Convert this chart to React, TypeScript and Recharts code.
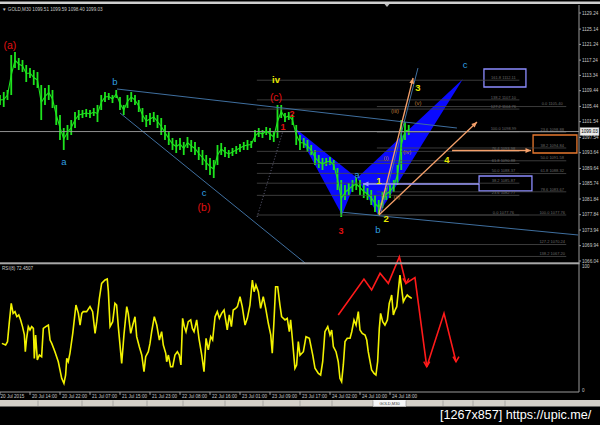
import React from "react";
import { ComposedChart, Bar, Line, XAxis, YAxis, ReferenceLine, ReferenceArea, Scatter } from "recharts";

// ---------- price candles (every 2nd M30 bar, high / low) ----------
const SAMPLE_STEP = 2;
const candleHigh = [
  1108.34, 1109.11, 1109.62, 1118.54, 1119.30, 1117.77, 1117.26, 1115.99, 1115.22, 1114.71,
  1114.20, 1110.89, 1110.13, 1110.89, 1109.62, 1105.80, 1103.25, 1099.93, 1100.70, 1101.97,
  1104.01, 1104.52, 1104.52, 1104.78, 1104.52, 1105.03, 1105.80, 1108.34, 1109.11, 1108.85,
  1108.34, 1109.62, 1107.83, 1105.80, 1108.34, 1109.11, 1108.34, 1107.07, 1105.03, 1103.25,
  1103.76, 1104.01, 1103.25, 1102.48, 1100.70, 1098.91, 1097.39, 1096.88, 1097.39, 1096.37,
  1097.64, 1096.88, 1096.37, 1095.09, 1094.33, 1093.05, 1092.29, 1091.78, 1095.60, 1096.11,
  1095.09, 1094.33, 1094.84, 1095.35, 1095.86, 1096.37, 1096.88, 1096.62, 1099.42, 1099.93,
  1099.42, 1100.19, 1099.93, 1098.91, 1105.80, 1105.80, 1103.76, 1104.01, 1103.25, 1100.70,
  1098.15, 1097.39, 1096.88, 1095.60, 1094.33, 1093.05, 1092.29, 1092.29, 1092.54, 1091.78,
  1089.74, 1086.68, 1085.41, 1085.92, 1086.68, 1087.19, 1086.68, 1085.41, 1084.64, 1084.13,
  1082.86, 1081.59, 1083.62, 1084.64, 1085.41, 1086.68, 1090.50, 1101.97, 1101.46, 1100.70,
];
const candleLow = [
  1105.80, 1105.29, 1107.07, 1108.34, 1115.22, 1114.71, 1114.20, 1111.66, 1112.68, 1110.89,
  1110.13, 1101.97, 1105.80, 1107.07, 1105.03, 1100.70, 1096.88, 1094.33, 1096.88, 1098.15,
  1099.93, 1101.97, 1102.48, 1102.74, 1102.48, 1102.99, 1101.46, 1104.52, 1106.56, 1107.07,
  1106.30, 1107.58, 1104.52, 1103.25, 1105.03, 1106.56, 1105.80, 1104.01, 1101.46, 1100.19,
  1100.70, 1101.46, 1099.93, 1098.15, 1096.88, 1095.60, 1094.33, 1093.56, 1094.33, 1093.05,
  1094.84, 1093.82, 1093.05, 1091.78, 1090.50, 1089.23, 1087.96, 1087.19, 1090.50, 1093.05,
  1092.54, 1092.29, 1092.80, 1093.31, 1093.82, 1094.33, 1094.33, 1094.84, 1096.37, 1097.64,
  1097.39, 1098.15, 1096.88, 1096.37, 1097.39, 1102.48, 1101.46, 1101.97, 1100.70, 1095.60,
  1094.33, 1094.84, 1093.82, 1093.05, 1090.50, 1089.74, 1089.23, 1090.25, 1090.50, 1089.23,
  1084.13, 1077.25, 1081.59, 1082.86, 1083.62, 1084.13, 1082.86, 1082.10, 1081.59, 1080.31,
  1078.53, 1077.76, 1079.55, 1081.59, 1082.10, 1083.62, 1085.41, 1089.23, 1096.88, 1098.15,
];
const lastPrice = 1099.03;

// ---------- axes ----------
const dateTickBars = [0, 16, 32, 48, 64, 80, 96, 112, 128, 144, 160, 176, 192, 208];
const dateTickLabels = [
  "20 Jul 2015", "20 Jul 14:00", "20 Jul 22:00", "21 Jul 07:00", "21 Jul 15:00", "21 Jul 23:00",
  "22 Jul 08:00", "22 Jul 16:00", "23 Jul 01:00", "23 Jul 09:00", "23 Jul 17:00", "24 Jul 02:00",
  "24 Jul 10:00", "24 Jul 18:00",
];
const priceTicks = [
  1129.24, 1125.14, 1121.24, 1117.24, 1113.34, 1109.44, 1105.44, 1101.54, 1097.54,
  1093.64, 1089.64, 1085.74, 1081.84, 1077.84, 1073.94, 1069.94, 1066.04,
];
const X_DOMAIN = [0, 308.8];
const PRICE_DOMAIN = [1032.658, 1131.279];
const RSI_DOMAIN = [-1.613, 310.48];

// ---------- RSI(8) ----------
const rsiBar = [
  1, 3, 4, 5, 6, 7, 8, 9, 10, 11, 12, 13, 13.5, 14.2, 15.1, 16, 16.9, 17.8, 18.3, 19,
  19.9, 21, 22.2, 23.1, 24.4, 25.8, 26.7, 27.6, 29.3, 31.1, 32.9, 34.1, 35, 35.6, 36.4, 37.3, 38.8, 40.5, 41.8, 42.7,
  43.6, 44.4, 46.2, 48, 49.4, 50.7, 51.6, 53, 54.2, 56, 57.2, 57.8, 58.7, 60.1, 61.3, 62.2, 63.1, 64.9, 66.1, 67.6,
  68.4, 69.7, 70.8, 72, 72.9, 74.3, 75.6, 76.8, 77.7, 79.1, 80, 80.9, 82.3, 83.6, 85, 86.2, 87.1, 88.4, 88.9, 89.8,
  91, 92.1, 93.3, 94.6, 95.6, 96.5, 97.4, 98.3, 99.2, 100.4, 101.7, 102.6, 103.5, 104.9, 106.1, 107.6, 108.8, 109.9, 111.1, 112.4,
  113.4, 114.7, 115.9, 117, 118.2, 119.5, 120.5, 121.2, 122.3, 123.4, 124.4, 125.7, 126.6, 128, 129.2, 130.7, 131.9, 133.3, 134.6, 135.5,
  136.5, 137.8, 139, 140.4, 141.7, 143.1, 144.4, 145.2, 146.1, 147, 148.1, 149.3, 150.2, 152, 153.2, 154.3, 155, 155.9, 157.3, 158.2,
  159.1, 160, 161.8, 163.2, 165, 166.8, 168, 169.8, 171, 172.1, 173.3, 174.8, 176, 176.9, 177.8, 179.2, 180.4, 181.3, 182.2, 183.1,
  184, 185.2, 186.7, 187.6, 188.8, 189.9, 191.1, 192, 193.2, 194.7, 195.6, 196.4, 198.2, 199.5, 200.5, 201.4, 202.3, 203, 204.1, 205.3,
  206.6, 207.6, 208.4, 208.9, 209.8, 210.7, 211.6, 212.4, 213.3, 214.2, 215.1, 216, 217.2, 218.3, 219.6,
];
const rsiValue = [
  37.6, 36.3, 39.0, 55.1, 69.9, 61.8, 63.2, 59.1, 60.5, 56.5, 51.1, 44.4, 30.9, 41.7, 51.1, 48.4, 51.1, 49.7, 25.5, 44.4,
  24.2, 28.2, 26.9, 49.7, 51.1, 52.4, 40.3, 37.6, 30.9, 22.8, 9.4, 5.4, 12.1, 25.5, 22.8, 29.6, 45.7, 68.5, 61.8, 52.4,
  61.8, 63.2, 63.2, 67.2, 63.2, 45.7, 55.1, 73.9, 86.0, 88.7, 89.5, 79.3, 51.1, 55.1, 69.9, 68.5, 51.1, 21.5, 44.4, 67.2,
  61.8, 45.7, 52.4, 59.1, 43.0, 34.9, 28.2, 14.8, 26.9, 30.9, 37.6, 47.0, 59.1, 52.4, 40.3, 47.0, 36.3, 29.6, 22.8, 28.2,
  18.8, 18.8, 28.2, 30.9, 28.2, 20.2, 57.8, 51.1, 47.0, 55.1, 56.5, 49.7, 47.0, 56.5, 41.7, 28.2, 14.8, 41.7, 32.3, 43.0,
  40.3, 59.1, 63.2, 57.8, 61.8, 64.5, 55.1, 48.4, 60.5, 51.1, 64.5, 65.9, 67.2, 75.2, 67.2, 52.4, 57.8, 68.5, 88.7, 79.3,
  84.7, 79.3, 65.9, 75.2, 65.9, 53.8, 44.4, 29.6, 55.1, 83.3, 83.3, 68.5, 59.1, 56.5, 57.8, 47.0, 56.5, 41.7, 17.5, 20.2,
  39.0, 28.0, 30.9, 43.0, 41.7, 28.2, 17.5, 13.4, 12.1, 22.8, 47.0, 51.1, 44.4, 48.4, 34.9, 30.9, 22.8, 9.4, 6.7, 20.2,
  39.0, 41.7, 41.7, 47.0, 56.5, 52.4, 63.2, 48.4, 45.7, 44.4, 40.3, 30.9, 16.1, 13.4, 12.1, 22.8, 49.7, 61.8, 55.1, 52.4,
  56.5, 69.9, 73.9, 76.6, 60.5, 64.5, 67.2, 79.3, 92.7, 82.0, 71.2, 73.9, 76.6, 75.2, 73.9,
];
// hand-drawn RSI projection (red)
const projBar = [180.4, 194.1, 198.2, 202.7, 207.1, 213.0, 216.5, 221.3, 227.6, 236.8, 243.2];
const projValue = [60.5, 89.5, 80.6, 94.1, 86.0, 107.5, 86.0, 90.6, 18.8, 61.8, 22.8];
const projArrowIdx = [6, 8, 10];

// ---------- Fibonacci levels ----------
const fibASpan = [137, 277];
const fibALabelBar = 268.5;
const fibALevels = ["0.0", "23.6", "38.2", "50.0", "61.8", "76.4", "100.0", "127.2", "138.2", "161.8"];
const fibAPrices = [1077.76, 1082.77, 1085.87, 1088.37, 1090.88, 1093.98, 1098.99, 1104.76, 1107.10, 1112.11];
const fibBSpan = [201, 302];
const fibBLabelBar = 294.5;
const fibBLevels = ["0.0", "23.6", "38.2", "50.0", "61.8", "78.6", "100.0", "127.2", "138.2"];
const fibBPrices = [1105.40, 1098.88, 1094.84, 1091.58, 1088.32, 1083.67, 1077.76, 1070.24, 1067.20];

// ---------- drawing objects (bar index, price) ----------
const channelLines = [
  { x1: 62.4, y1: 1109.87, x2: 243.7, y2: 1099.93 },
  { x1: 64, y1: 1103.76, x2: 162.7, y2: 1065.53 },
  { x1: 181.3, y1: 1078.53, x2: 308.3, y2: 1072.67 },
  { x1: 203.2, y1: 1078.27, x2: 222.9, y2: 1115.22 },
];
const dottedLines = [{ x1: 137.1, y1: 1077.25, x2: 150.9, y2: 1099.17 }];
const orangeArrows = [
  { x1: 202.1, y1: 1078.02, x2: 220.3, y2: 1112.68 },
  { x1: 202.1, y1: 1077.76, x2: 254.4, y2: 1101.46 },
  { x1: 241.1, y1: 1094.2, x2: 283.2, y2: 1094.2 },
];
const purpleArrows = [{ x1: 255.5, y1: 1085.66, x2: 193.6, y2: 1085.66 }];
const purpleBoxes = [
  { x1: 258.1, x2: 280.5, y1: 1110.38, y2: 1114.97 },
  { x1: 255.5, x2: 283.7, y1: 1083.88, y2: 1087.70 },
];
const orangeBoxes = [{ x1: 284.3, x2: 307.7, y1: 1093.56, y2: 1098.15 }];
const harmonicLeg1 = [
  { bar: 157.3, price: 1099.93 },
  { bar: 182.4, price: 1077.76 },
  { bar: 190.4, price: 1087.19 },
];
const harmonicLeg2 = [
  { bar: 190.4, price: 1087.19 },
  { bar: 201.6, price: 1077.76 },
  { bar: 246.9, price: 1112.42 },
];

// ---------- wave labels ----------
const redLabels = [
  { text: "(a)", bar: 5.3, price: 1121.09 },
  { text: "(b)", bar: 108.8, price: 1079.8 },
  { text: "(c)", bar: 147.2, price: 1107.83 },
];
const redDigits = [
  { text: "1", bar: 150.9, price: 1100.19 },
  { text: "2", bar: 155.7, price: 1103.5 },
  { text: "3", bar: 181.9, price: 1073.69 },
];
const cyanLabels = [
  { text: "b", bar: 61.3, price: 1111.91 },
  { text: "a", bar: 34.1, price: 1091.52 },
  { text: "c", bar: 108.8, price: 1083.62 },
  { text: "a", bar: 190.4, price: 1088.21 },
  { text: "b", bar: 201.6, price: 1074.19 },
  { text: "c", bar: 248, price: 1116.24 },
];
const yellowLabels = [
  { text: "iv", bar: 147.2, price: 1112.17 },
  { text: "1", bar: 202.1, price: 1086.43 },
  { text: "2", bar: 205.9, price: 1076.99 },
  { text: "3", bar: 222.9, price: 1110.13 },
  { text: "4", bar: 238.4, price: 1092.03 },
];
const minorLabels = [
  { text: "(i)", bar: 205.9, price: 1092.29 },
  { text: "(ii)", bar: 211.7, price: 1082.35 },
  { text: "(iii)", bar: 210.7, price: 1104.27 },
  { text: "(iv)", bar: 217.1, price: 1093.82 },
  { text: "(v)", bar: 222.9, price: 1106.3 },
];

const FONT = "Liberation Sans, Arial, sans-serif";
const GREEN = "#1ee41e";

const DateTick = (p: any) => {
  const i = dateTickBars.indexOf(p.payload.value);
  const label = i >= 0 ? dateTickLabels[i] : "";
  const dx = i === 0 ? 0.5 : 2;
  return (
    <text x={p.x + dx} y={p.y + 3.4} fontSize={4.6} fill="#c8c8c8" fontFamily={FONT}>
      {label}
    </text>
  );
};

const PriceTick = (p: any) => (
  <text x={p.x} y={p.y + 1.6} fontSize={4.6} fill="#c8c8c8" fontFamily={FONT}>
    {Number(p.payload.value).toFixed(2)}
  </text>
);

const okNum = (...v: any[]) => v.every((n) => typeof n === "number" && !isNaN(n));

const CandleShape = (p: any) => {
  if (!okNum(p.x, p.y, p.width, p.height)) return <g />;
  const cx = p.x + p.width / 2;
  const top = Math.min(p.y, p.y + p.height);
  const h = Math.max(Math.abs(p.height), 1);
  return <rect x={cx - 0.9} y={top} width={1.8} height={h} fill={GREEN} />;
};

function makeArrow(color: string, w: number, head: number) {
  return (p: any) => {
    const { x1, y1, x2, y2 } = p;
    if (!okNum(x1, y1, x2, y2)) return <g />;
    const a = Math.atan2(y2 - y1, x2 - x1);
    const pts = [
      [x2, y2],
      [x2 - head * Math.cos(a - 0.42), y2 - head * Math.sin(a - 0.42)],
      [x2 - head * Math.cos(a + 0.42), y2 - head * Math.sin(a + 0.42)],
    ];
    return (
      <g>
        <line x1={x1} y1={y1} x2={x2} y2={y2} stroke={color} strokeWidth={w} />
        <polygon points={pts.map((q) => q.join(",")).join(" ")} fill={color} />
      </g>
    );
  };
}

function polygonShape(verts: { bar: number; price: number }[], color: string) {
  const xs = verts.map((v) => v.bar);
  const ys = verts.map((v) => v.price);
  const x0 = Math.min(...xs), x1 = Math.max(...xs), y0 = Math.min(...ys), y1 = Math.max(...ys);
  const shape = (p: any) => {
    if (!okNum(p.x, p.y, p.width, p.height)) return <g />;
    const pts = verts
      .map((v) => `${p.x + ((v.bar - x0) / (x1 - x0)) * p.width},${p.y + ((y1 - v.price) / (y1 - y0)) * p.height}`)
      .join(" ");
    return <polygon points={pts} fill={color} />;
  };
  return { x0, x1, y0, y1, shape };
}

const textShape = (color: string, size: number, weight: string | number = "normal") => (p: any) => (
  <text
    x={p.cx}
    y={p.cy}
    fill={color}
    fontSize={size}
    fontWeight={weight}
    textAnchor="middle"
    dominantBaseline="central"
    fontFamily={FONT}
  >
    {p.payload.text}
  </text>
);

const fibTextShape = (p: any) => (
  <text x={p.cx} y={p.cy - 1.3} fill="#6a6a6a" fontSize={4} textAnchor="middle" fontFamily={FONT}>
    {p.payload.text}
  </text>
);

const projDot = (p: any) => {
  const i = p.index;
  if (!projArrowIdx.includes(i) || !okNum(p.cx, p.cy)) return <g key={`pd${i}`} />;
  const down = projValue[i] < projValue[i - 1];
  const s = down ? -1 : 1;
  return (
    <path
      key={`pd${i}`}
      d={`M${p.cx - 3},${p.cy + s * 5} L${p.cx},${p.cy} L${p.cx + 3},${p.cy + s * 5}`}
      stroke="#ff1a1a"
      strokeWidth={1.5}
      fill="none"
    />
  );
};

const priceLineShape = (p: any) => {
  const { x1, y1, x2, y2 } = p;
  if (!okNum(x1, y1, x2, y2)) return <g />;
  const right = Math.max(x1, x2);
  return (
    <g>
      <line x1={x1} y1={y1} x2={x2} y2={y2} stroke="#a0a0a0" strokeWidth={0.9} />
      <rect x={right + 1} y={y1 - 4} width={19} height={8} fill="#ececec" stroke="#808080" strokeWidth={0.5} />
      <text x={right + 2.2} y={y1 + 1.6} fontSize={4.6} fill="#000" fontFamily={FONT}>
        {lastPrice.toFixed(2)}
      </text>
    </g>
  );
};

const rsiTagShape = (label: string) => (p: any) => {
  const { x1, x2, y1 } = p;
  if (!okNum(x1, x2, y1)) return <g />;
  const right = Math.max(x1, x2);
  return (
    <text x={right + 3} y={y1 + 1.6} fontSize={4.6} fill="#c8c8c8" fontFamily={FONT}>
      {label}
    </text>
  );
};

const tabEdges = [38, 82, 113, 147, 183, 225, 263, 300, 332, 373, 406, 443, 473, 505];

export default function App() {
  const candles = candleHigh.map((h, i) => ({
    bar: i * SAMPLE_STEP,
    hl: [candleLow[i], h],
    mid: (candleLow[i] + h) / 2,
  }));
  const rsiData = rsiBar.map((b, i) => ({ bar: b, rsi: rsiValue[i] }));
  const projData = projBar.map((b, i) => ({ bar: b, rsi: projValue[i] }));
  const fibALabels = fibAPrices.map((pr, i) => ({ bar: fibALabelBar, price: pr, text: `${fibALevels[i]}  ${pr.toFixed(2)}` }));
  const fibBLabels = fibBPrices.map((pr, i) => ({ bar: fibBLabelBar, price: pr, text: `${fibBLevels[i]}  ${pr.toFixed(2)}` }));
  const poly1 = polygonShape(harmonicLeg1, "#0a0aff");
  const poly2 = polygonShape(harmonicLeg2, "#0a0aff");
  const orangeArrowShape = makeArrow("#f5a06a", 1.3, 6);
  const purpleArrowShape = makeArrow("#9c9cff", 1.3, 6);

  return (
    <div style={{ position: "absolute", left: 0, top: 0, width: 600, height: 425, background: "#000", overflow: "hidden" }}>
      <ComposedChart width={600} height={425} data={candles} margin={{ top: 5, right: 0, bottom: 0, left: 0 }}>
        <XAxis
          dataKey="bar"
          type="number"
          domain={X_DOMAIN}
          allowDataOverflow
          ticks={dateTickBars}
          interval={0}
          tick={DateTick}
          tickSize={3}
          tickMargin={0}
          height={33}
          axisLine={{ stroke: "#9a9a9a" }}
          tickLine={{ stroke: "#9a9a9a" }}
        />
        <YAxis
          yAxisId="price"
          orientation="right"
          width={21}
          type="number"
          domain={PRICE_DOMAIN}
          allowDataOverflow
          ticks={priceTicks}
          interval={0}
          tick={PriceTick}
          tickSize={2}
          tickMargin={1}
          axisLine={{ stroke: "#9a9a9a" }}
          tickLine={{ stroke: "#9a9a9a" }}
        />
        <YAxis yAxisId="rsi" hide type="number" domain={RSI_DOMAIN} allowDataOverflow />

        <ReferenceArea yAxisId="price" x1={poly1.x0} x2={poly1.x1} y1={poly1.y0} y2={poly1.y1} shape={poly1.shape} />
        <ReferenceArea yAxisId="price" x1={poly2.x0} x2={poly2.x1} y1={poly2.y0} y2={poly2.y1} shape={poly2.shape} />

        {fibAPrices.map((pr, i) => (
          <ReferenceLine key={`fa${i}`} yAxisId="price" segment={[{ x: fibASpan[0], y: pr }, { x: fibASpan[1], y: pr }]} stroke="#4a4a4a" strokeWidth={0.8} />
        ))}
        {fibBPrices.map((pr, i) => (
          <ReferenceLine key={`fb${i}`} yAxisId="price" segment={[{ x: fibBSpan[0], y: pr }, { x: fibBSpan[1], y: pr }]} stroke="#4a4a4a" strokeWidth={0.8} />
        ))}
        {channelLines.map((l, i) => (
          <ReferenceLine key={`ch${i}`} yAxisId="price" segment={[{ x: l.x1, y: l.y1 }, { x: l.x2, y: l.y2 }]} stroke="#3f6f9f" strokeWidth={1} />
        ))}
        {dottedLines.map((l, i) => (
          <ReferenceLine key={`dl${i}`} yAxisId="price" segment={[{ x: l.x1, y: l.y1 }, { x: l.x2, y: l.y2 }]} stroke="#7a7a9a" strokeWidth={0.8} strokeDasharray="1 2" />
        ))}
        <ReferenceLine yAxisId="price" y={lastPrice} shape={priceLineShape} />

        <Bar yAxisId="price" dataKey="hl" fill={GREEN} barSize={2} shape={CandleShape} isAnimationActive={false} />
        <Line yAxisId="price" dataKey="mid" type="linear" stroke={GREEN} strokeWidth={1.1} dot={false} isAnimationActive={false} />

        {orangeArrows.map((l, i) => (
          <ReferenceLine key={`oa${i}`} yAxisId="price" segment={[{ x: l.x1, y: l.y1 }, { x: l.x2, y: l.y2 }]} shape={orangeArrowShape} />
        ))}
        {purpleArrows.map((l, i) => (
          <ReferenceLine key={`pa${i}`} yAxisId="price" segment={[{ x: l.x1, y: l.y1 }, { x: l.x2, y: l.y2 }]} shape={purpleArrowShape} />
        ))}
        {purpleBoxes.map((b, i) => (
          <ReferenceArea key={`pb${i}`} yAxisId="price" x1={b.x1} x2={b.x2} y1={b.y1} y2={b.y2} fill="none" fillOpacity={0} stroke="#8c8cff" strokeWidth={1.3} />
        ))}
        {orangeBoxes.map((b, i) => (
          <ReferenceArea key={`ob${i}`} yAxisId="price" x1={b.x1} x2={b.x2} y1={b.y1} y2={b.y2} fill="none" fillOpacity={0} stroke="#e8782e" strokeWidth={1.3} />
        ))}

        <Scatter yAxisId="price" data={fibALabels} dataKey="price" shape={fibTextShape} isAnimationActive={false} />
        <Scatter yAxisId="price" data={fibBLabels} dataKey="price" shape={fibTextShape} isAnimationActive={false} />
        <Scatter yAxisId="price" data={redLabels} dataKey="price" shape={textShape("#e01010", 10.5)} isAnimationActive={false} />
        <Scatter yAxisId="price" data={redDigits} dataKey="price" shape={textShape("#e01010", 9, "bold")} isAnimationActive={false} />
        <Scatter yAxisId="price" data={cyanLabels} dataKey="price" shape={textShape("#2f9fe0", 9.5)} isAnimationActive={false} />
        <Scatter yAxisId="price" data={yellowLabels} dataKey="price" shape={textShape("#e8e800", 9.5, "bold")} isAnimationActive={false} />
        <Scatter yAxisId="price" data={minorLabels} dataKey="price" shape={textShape("#b87a3a", 6)} isAnimationActive={false} />

        <Line data={rsiData} yAxisId="rsi" dataKey="rsi" type="linear" stroke="#f2f200" strokeWidth={1.6} dot={false} isAnimationActive={false} />
        <Line data={projData} yAxisId="rsi" dataKey="rsi" type="linear" stroke="#ff1a1a" strokeWidth={1.6} dot={projDot} isAnimationActive={false} />
        <ReferenceLine yAxisId="rsi" y={100} shape={rsiTagShape("100")} />
        <ReferenceLine yAxisId="rsi" y={0} shape={rsiTagShape("0")} />
      </ComposedChart>

      <svg width={600} height={425} style={{ position: "absolute", left: 0, top: 0, pointerEvents: "none" }}>
        <rect x={0} y={1.5} width={600} height={2.5} fill="#cfcfcf" />
        <polygon points="384.5,4 389.5,4 387,7" fill="#bdbdbd" />
        <text x={2} y={10.6} fontSize={4.6} fill="#c8c8c8" fontFamily={FONT}>
          ▼ GOLD,M30  1099.51 1099.59 1098.40 1099.03
        </text>
        <rect x={0} y={262.3} width={579.5} height={2} fill="#a8a8a8" />
        <text x={2} y={269.8} fontSize={4.6} fill="#c8c8c8" fontFamily={FONT}>
          RSI(8) 72.4507
        </text>
        <rect x={0} y={400} width={600} height={6.5} fill="#d4d0c8" />
        <rect x={373} y={400} width={33} height={6.5} fill="#f6f6f6" />
        {tabEdges.map((x) => (
          <line key={x} x1={x} y1={400.5} x2={x} y2={406} stroke="#8a8a8a" strokeWidth={0.6} />
        ))}
        <text x={389.5} y={405} fontSize={4} fill="#333" textAnchor="middle" fontFamily={FONT}>
          GOLD,M30
        </text>
        <text x={440} y={419} fill="#ffffff" fontSize={12.6} fontFamily={FONT}>
          [1267x857] https://upic.me/
        </text>
      </svg>
    </div>
  );
}
